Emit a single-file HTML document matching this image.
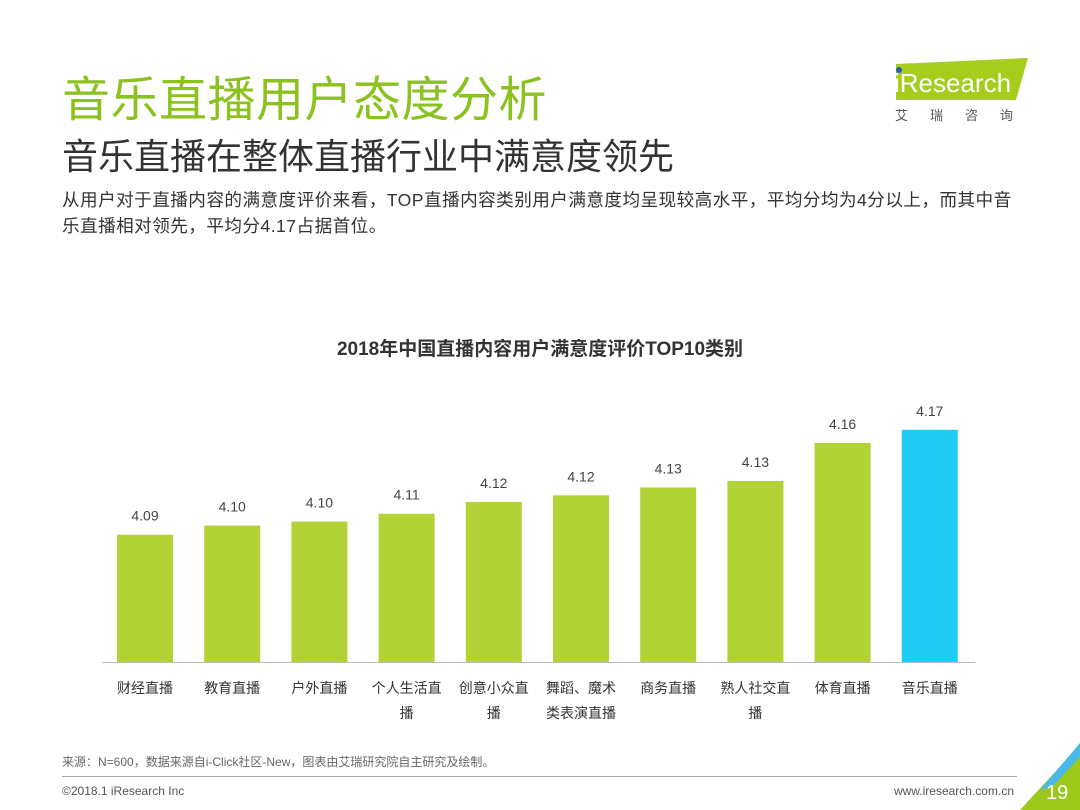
<!DOCTYPE html>
<html><head><meta charset="utf-8">
<style>
body{margin:0;width:1080px;height:810px;background:#fff;overflow:hidden;position:relative;font-family:"Liberation Sans","Noto Sans CJK SC",sans-serif;}
.abs{position:absolute;}
</style></head>
<body>
<div class="abs" style="left:62px;top:60px;font-size:48px;color:#8cc220;letter-spacing:0.5px;">音乐直播用户态度分析</div>
<div class="abs" style="left:62px;top:128px;font-size:36px;color:#333;">音乐直播在整体直播行业中满意度领先</div>
<div class="abs" style="left:62px;top:187px;width:955px;font-size:17.6px;letter-spacing:0.45px;line-height:26px;color:#333;">从用户对于直播内容的满意度评价来看，TOP直播内容类别用户满意度均呈现较高水平，平均分均为4分以上，而其中音<br>乐直播相对领先，平均分4.17占据首位。</div>
<div class="abs" style="left:888px;top:56px;width:145px;height:72px;">
<svg width="145" height="72"><polygon points="8,8 140,2 128,44 8,44" fill="#a6cc1c"/><circle cx="11" cy="14" r="3" fill="#2a5ca8"/><text x="6" y="36" font-size="26" fill="#fff" font-family="Liberation Sans">iResearch</text>
<text x="7" y="64" font-size="13" fill="#555" font-family="Noto Sans CJK SC" letter-spacing="22">艾瑞咨询</text></svg></div>
<div class="abs" style="left:0;width:1080px;top:334px;text-align:center;font-size:19px;font-weight:bold;color:#333;">2018年中国直播内容用户满意度评价TOP10类别</div>
<svg class="abs" id="chart" style="left:0;top:0" width="1080" height="810"></svg>
<div class="abs" style="left:62px;top:753px;font-size:12px;color:#666;">来源：N=600，数据来源自i-Click社区-New，图表由艾瑞研究院自主研究及绘制。</div>
<div class="abs" style="left:62px;top:776px;width:955px;height:1px;background:#aaa;"></div>
<div class="abs" style="left:62px;top:784px;font-size:12px;color:#555;">©2018.1 iResearch Inc</div>
<div class="abs" style="right:66px;top:784px;font-size:12px;color:#555;">www.iresearch.com.cn</div>
<svg class="abs" style="left:1010px;top:735px" width="70" height="75">
<polygon points="10,75 70,10 70,75" fill="#9cc81c"/><polygon points="30,55 70,8 70,22 42,52" fill="#4ab8e8"/>
<text x="36" y="64" font-size="20" fill="#fff" font-family="Liberation Sans">19</text></svg>
<script>
const categories=["财经直播","教育直播","户外直播","个人生活直播","创意小众直播","舞蹈、魔术类表演直播","商务直播","熟人社交直播","体育直播","音乐直播"];
const catLines=[["财经直播"],["教育直播"],["户外直播"],["个人生活直","播"],["创意小众直","播"],["舞蹈、魔术","类表演直播"],["商务直播"],["熟人社交直","播"],["体育直播"],["音乐直播"]];
const values=[4.090,4.097,4.100,4.106,4.115,4.120,4.126,4.131,4.160,4.170];
const valueLabels=["4.09","4.10","4.10","4.11","4.12","4.12","4.13","4.13","4.16","4.17"];
const svg=document.getElementById('chart');
const NS='http://www.w3.org/2000/svg';
const base=662, yMin=3.993, pxPer=1312;
function y(v){return base-(v-yMin)*pxPer;}
function x(i){return 145+i*87.2;}
const bw=56;
function mk(t,a){const e=document.createElementNS(NS,t);for(const k in a)e.setAttribute(k,a[k]);svg.appendChild(e);return e;}
values.forEach((v,i)=>{
 const r=mk('rect',{x:x(i)-bw/2,y:y(v),width:bw,height:base-y(v),fill:i===9?'#1fcdf4':'#b2d235'});
 
 
 const t=mk('text',{x:x(i),y:y(v)-14,'text-anchor':'middle','font-size':14,fill:'#444'});
 t.textContent=valueLabels[i];
 
 
 catLines[i].forEach((l,j)=>{
  const c=mk('text',{x:x(i),y:693+j*25,'text-anchor':'middle','font-size':14,fill:'#333'});
  c.textContent=l;
  
  
 });
});
const ax=mk('line',{x1:102,x2:975,y1:base+0.5,y2:base+0.5,stroke:'#bbb','stroke-width':1});


</script>
</body></html>
